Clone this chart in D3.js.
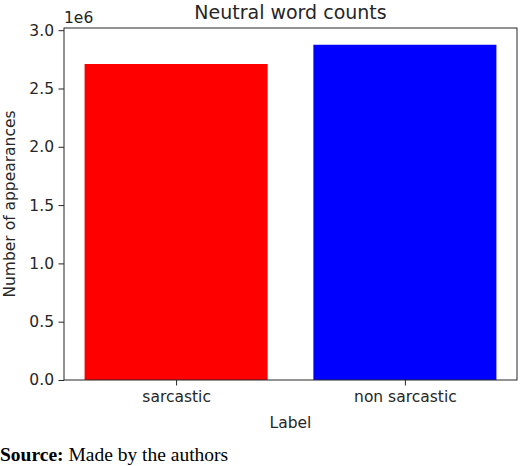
<!DOCTYPE html>
<html>
<head>
<meta charset="utf-8">
<script src="https://cdn.jsdelivr.net/npm/d3@7"></script>
<style>
  body { margin: 0; background: #fff; }
  svg text { font-family: "DejaVu Sans", sans-serif; fill: #262626; }
</style>
</head>
<body>
<div id="chart"></div>
<script>
// data
var labels = ["sarcastic", "non sarcastic"];
var counts = [2710000, 2875000];
var barColors = ["#ff0000", "#0000ff"];
var yTicks = [0, 0.5e6, 1e6, 1.5e6, 2e6, 2.5e6, 3e6];

var width = 520, height = 466;
var plot = { left: 64, right: 517, top: 28, bottom: 380 };
var tickFont = "15.5px";

var svg = d3.select("#chart").append("svg")
  .attr("width", width)
  .attr("height", height);

// matplotlib-like limits: bars at 0,1 width 0.8, 5% margins
var barWidth = 0.8;
var x = d3.scaleLinear()
  .domain([-0.49, 1.49])
  .range([plot.left, plot.right]);

var yMax = d3.max(counts) * 1.05;
var y = d3.scaleLinear()
  .domain([0, yMax])
  .range([plot.bottom, plot.top]);

// bars
svg.append("g").selectAll("rect")
  .data(counts).enter()
  .append("rect")
  .attr("x", function (d, i) { return x(i - barWidth / 2); })
  .attr("y", function (d) { return y(d); })
  .attr("width", function () { return x(barWidth) - x(0); })
  .attr("height", function (d) { return y(0) - y(d); })
  .style("fill", function (d, i) { return barColors[i]; });

// y axis
var yAxis = d3.axisLeft(y)
  .tickValues(yTicks)
  .tickSize(5.5)
  .tickPadding(4.5)
  .tickFormat(function (d) { return (d / 1e6).toFixed(1); });

var gy = svg.append("g")
  .attr("transform", "translate(" + plot.left + ",0)")
  .call(yAxis);
gy.select(".domain").remove();
gy.selectAll("text").style("font-size", tickFont).style("fill", "#262626");
gy.selectAll("line").style("stroke", "#262626");

// x axis
var xAxis = d3.axisBottom(x)
  .tickValues([0, 1])
  .tickSize(5.5)
  .tickPadding(5)
  .tickFormat(function (d) { return labels[d]; });

var gx = svg.append("g")
  .attr("transform", "translate(0," + plot.bottom + ")")
  .call(xAxis);
gx.select(".domain").remove();
gx.selectAll("text").style("font-size", tickFont).style("fill", "#262626");
gx.selectAll("line").style("stroke", "#262626");

// frame
svg.append("rect")
  .attr("x", plot.left)
  .attr("y", plot.top)
  .attr("width", plot.right - plot.left)
  .attr("height", plot.bottom - plot.top)
  .style("fill", "none")
  .style("stroke", "#262626")
  .style("stroke-width", 1);

// offset text
svg.append("text")
  .attr("x", plot.left)
  .attr("y", 23)
  .style("font-size", tickFont)
  .text("1e6");

// title
svg.append("text")
  .attr("x", (plot.left + plot.right) / 2)
  .attr("y", 19)
  .attr("text-anchor", "middle")
  .style("font-size", "19px")
  .text("Neutral word counts");

// axis labels
svg.append("text")
  .attr("x", (plot.left + plot.right) / 2)
  .attr("y", 428)
  .attr("text-anchor", "middle")
  .style("font-size", tickFont)
  .text("Label");

svg.append("text")
  .attr("transform", "translate(15," + ((plot.top + plot.bottom) / 2) + ") rotate(-90)")
  .attr("text-anchor", "middle")
  .style("font-size", tickFont)
  .text("Number of appearances");

// source line
var src = svg.append("text")
  .attr("x", 0)
  .attr("y", 461)
  .style("font-family", "'Liberation Serif', 'Times New Roman', serif")
  .style("font-size", "19.5px")
  .style("fill", "#000");
src.append("tspan").style("font-weight", "bold").text("Source:");
src.append("tspan").text(" Made by the authors");
</script>
</body>
</html>
